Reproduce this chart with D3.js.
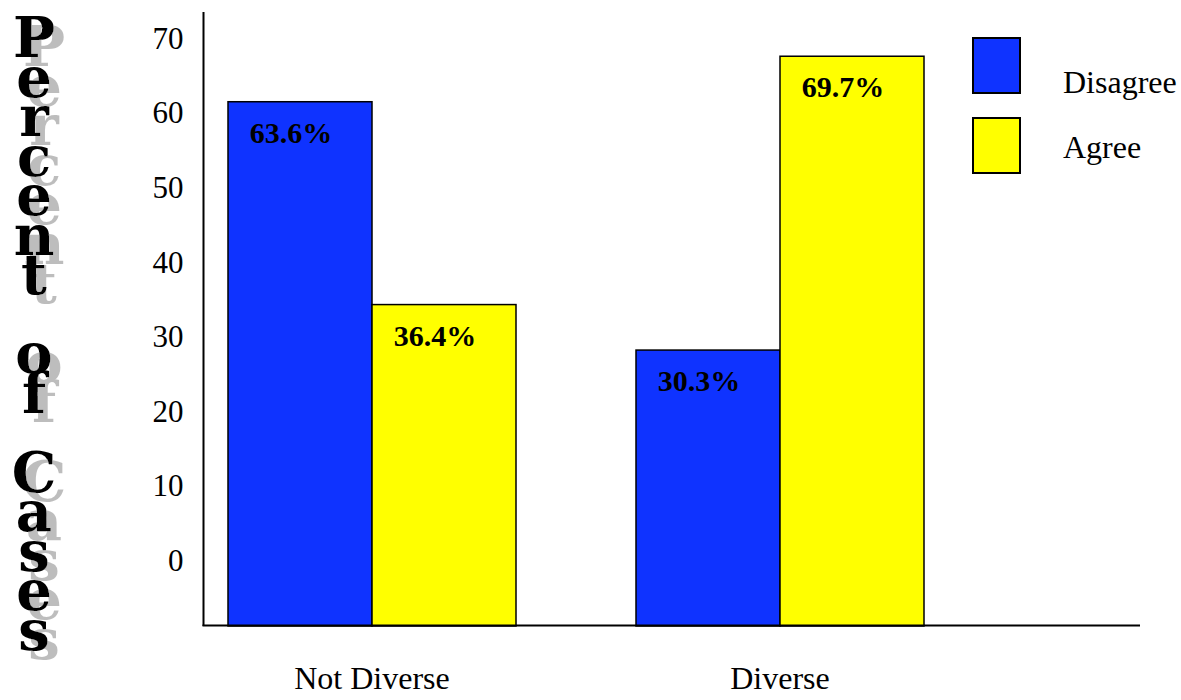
<!DOCTYPE html>
<html>
<head>
<meta charset="utf-8">
<script src="https://cdn.jsdelivr.net/npm/d3@7"></script>
<style>
  html, body { margin: 0; padding: 0; background: #fff; }
  svg { display: block; }
</style>
</head>
<body>
<svg id="chart" width="1181" height="700"></svg>
<script>
// Data
const categories = ["Not Diverse", "Diverse"];
const seriesNames = ["Disagree", "Agree"];
const disagreeValues = [63.6, 30.3];
const agreeValues = [36.4, 69.7];
const tickValues = [0, 10, 20, 30, 40, 50, 60, 70];
const axisTitle = "Percent of Cases";

const colors = { Disagree: "#0f33ff", Agree: "#ffff00" };
const serif = "'Liberation Serif', 'Times New Roman', serif";

const svg = d3.select("#chart");

// Drop shadow used by the stacked axis title
const defs = svg.append("defs");
const shadow = defs.append("filter")
  .attr("id", "titleShadow")
  .attr("x", "-50%").attr("y", "-10%")
  .attr("width", "200%").attr("height", "120%");
shadow.append("feOffset").attr("in", "SourceAlpha").attr("dx", 10).attr("dy", 9).attr("result", "off");
shadow.append("feFlood").attr("flood-color", "#bdbdbd").attr("result", "grey");
shadow.append("feComposite").attr("in", "grey").attr("in2", "off").attr("operator", "in").attr("result", "shade");
const merge = shadow.append("feMerge");
merge.append("feMergeNode").attr("in", "shade");
merge.append("feMergeNode").attr("in", "SourceGraphic");

// Scales
const axisX = 203.5, axisBottom = 626, axisTop = 12, axisRight = 1140;
const y = d3.scaleLinear().domain([-6.7, 70]).range([axisBottom, 54]);
const x = d3.scalePoint().domain(categories).range([372, 780]);
const xs = d3.scaleBand().domain(seriesNames).range([-144, 144]);

const rows = categories.map((c, i) => ({
  category: c,
  values: [
    { series: "Disagree", value: disagreeValues[i] },
    { series: "Agree", value: agreeValues[i] }
  ]
}));

// Bars
const groups = svg.selectAll("g.group")
  .data(rows).join("g")
  .attr("class", "group")
  .attr("transform", d => `translate(${x(d.category)},0)`);

groups.selectAll("rect")
  .data(d => d.values).join("rect")
  .attr("x", d => xs(d.series))
  .attr("y", d => y(d.value))
  .attr("width", xs.bandwidth())
  .attr("height", d => axisBottom - y(d.value))
  .attr("fill", d => colors[d.series])
  .attr("stroke", "#000")
  .attr("stroke-width", 1.5);

groups.selectAll("text.value")
  .data(d => d.values).join("text")
  .attr("class", "value")
  .attr("x", d => xs(d.series) + xs.bandwidth() / 2 - 9)
  .attr("y", d => y(d.value) + 41)
  .attr("text-anchor", "middle")
  .attr("font-family", serif)
  .attr("font-weight", "bold")
  .attr("font-size", 30)
  .attr("fill", "#000")
  .text(d => d.value.toFixed(1) + "%");

// Y axis labels (no tick marks)
const yAxis = svg.append("g")
  .attr("transform", `translate(${axisX},0)`)
  .call(d3.axisLeft(y).tickValues(tickValues).tickSize(0).tickPadding(20));
yAxis.select(".domain").remove();
yAxis.selectAll("text")
  .attr("font-family", serif)
  .attr("font-size", 31)
  .attr("fill", "#000")
  .attr("dy", "-0.15em")
  .attr("transform", "translate(0,-1)");

// Axis lines
svg.append("line")
  .attr("x1", axisX).attr("x2", axisX)
  .attr("y1", axisTop).attr("y2", axisBottom)
  .attr("stroke", "#000").attr("stroke-width", 2);
svg.append("line")
  .attr("x1", axisX - 1).attr("x2", axisRight)
  .attr("y1", axisBottom - 0.5).attr("y2", axisBottom - 0.5)
  .attr("stroke", "#000").attr("stroke-width", 2);

// Category labels
svg.selectAll("text.category")
  .data(categories).join("text")
  .attr("class", "category")
  .attr("x", d => x(d))
  .attr("y", 689)
  .attr("text-anchor", "middle")
  .attr("font-family", serif)
  .attr("font-size", 32)
  .attr("fill", "#000")
  .text(d => d);

// Legend
const legend = svg.append("g");
const legendItems = legend.selectAll("g")
  .data(seriesNames).join("g")
  .attr("transform", (d, i) => `translate(973,${38 + i * 80})`);
legendItems.append("rect")
  .attr("width", 47).attr("height", 55)
  .attr("fill", d => colors[d])
  .attr("stroke", "#000").attr("stroke-width", 2);
legendItems.append("text")
  .attr("x", 90)
  .attr("y", (d, i) => i === 0 ? 55 : 40)
  .attr("font-family", serif)
  .attr("font-size", 32)
  .attr("fill", "#000")
  .text(d => d);

// Stacked vertical axis title: one upright letter per line, grey drop shadow
const letters = axisTitle.split("").map((ch, i) => ({ ch, i })).filter(d => d.ch !== " ");
const letterY = i => 57 + i * 39.5;
svg.append("text")
  .attr("font-family", "'DejaVu Serif', serif")
  .attr("font-weight", "bold")
  .attr("font-size", 56)
  .attr("fill", "#000")
  .attr("text-anchor", "middle")
  .attr("filter", "url(#titleShadow)")
  .selectAll("tspan")
  .data(letters).join("tspan")
  .attr("x", 34)
  .attr("y", d => letterY(d.i))
  .text(d => d.ch);
</script>
</body>
</html>
